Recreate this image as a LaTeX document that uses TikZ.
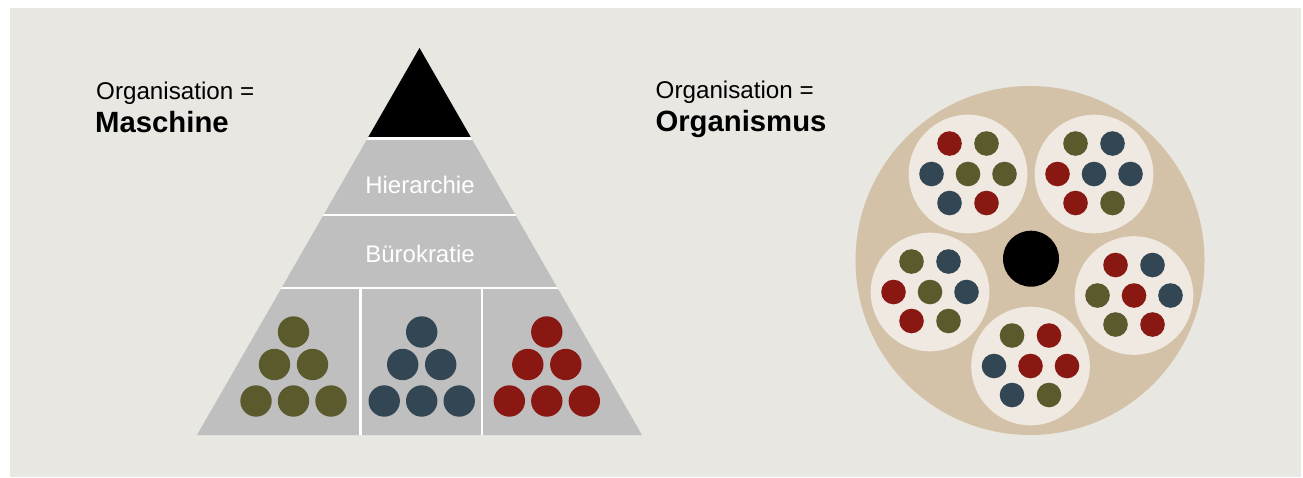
\documentclass[tikz,border=0pt]{standalone}
\usepackage{fontspec}
\setmainfont{Liberation Sans}
\definecolor{bgc}{HTML}{E9E7E2}
\definecolor{pyr}{HTML}{BFBFBF}
\definecolor{olv}{HTML}{5B5A2D}
\definecolor{slt}{HTML}{334654}
\definecolor{drd}{HTML}{8A1812}
\definecolor{tanc}{HTML}{D3C2A8}
\definecolor{crm}{HTML}{EFE9E2}
\newcommand{\mypyrdots}[3]{%
  \begin{scope}[shift={(#1,0)}]
    \foreach \px/\py in {293.5/332,274.5/364.5,312.5/364.5,256/401,293.5/401,331/401}
      \fill[#2] (\px,\py) circle[radius=#3];
  \end{scope}}
\newcommand{\mycluster}[9]{%
  \begin{scope}[shift={(#1,#2)}]
    \fill[crm] (0,0) circle[radius=59.3];
    \fill[#3] (-18.5,-30.5) circle[radius=12.3];
    \fill[#4] (18.5,-30.5) circle[radius=12.3];
    \fill[#5] (-36.5,0) circle[radius=12.3];
    \fill[#6] (0,0) circle[radius=12.3];
    \fill[#7] (36.5,0) circle[radius=12.3];
    \fill[#8] (-18.5,29) circle[radius=12.3];
    \fill[#9] (18.5,29) circle[radius=12.3];
  \end{scope}}
\begin{document}
\begin{tikzpicture}[x=1pt,y=-1pt,
  lbl/.style={anchor=base west, inner sep=0pt, text=black, font=\fontsize{24.2}{28}\selectfont},
  blbl/.style={anchor=base west, inner sep=0pt, text=black, font=\fontsize{29.3}{33}\selectfont\bfseries},
  pyrlbl/.style={anchor=base, inner sep=0pt, text=white, font=\fontsize{24}{28}\selectfont}]
\useasboundingbox (0,0) rectangle (1303,477);
\fill[bgc] (10,8) rectangle (1301,477);
% pyramid
\coordinate (apex) at (419.5,48);
\coordinate (bl) at (197,435);
\coordinate (br) at (642,435);
\fill[pyr] (apex) -- (bl) -- (br) -- cycle;
\begin{scope}
  \clip (apex) -- (bl) -- (br) -- cycle;
  \fill[black] (300,40) rectangle (540,138);
  \draw[white, line width=2.2pt] (180,138.5) -- (660,138.5);
  \draw[white, line width=2.2pt] (180,214.8) -- (660,214.8);
  \draw[white, line width=2.2pt] (180,288.3) -- (660,288.3);
  \draw[white, line width=2.2pt] (360.5,288.3) -- (360.5,440);
  \draw[white, line width=2.2pt] (482,288.3) -- (482,440);
\end{scope}
\node[pyrlbl] (hier) at (420,193.3) {Hierarchie};
\node[pyrlbl] (buero) at (420,262.3) {Bürokratie};
\mypyrdots{0}{olv}{15.7}
\mypyrdots{128.2}{slt}{15.7}
\mypyrdots{253.3}{drd}{15.7}
% left labels
\node[lbl] (org1) at (96,99.3) {Organisation =};
\node[blbl] (masch) at (95,132.3) {Maschine};
% right labels
\node[lbl] (org2) at (655.5,98.3) {Organisation =};
\node[blbl] (orgm) at (655.3,131.7) {Organismus};
% organism
\fill[tanc] (1030,260.5) circle[radius=174.5];
\fill[black] (1031,258.7) circle[radius=28];
\mycluster{968}{174}{drd}{olv}{slt}{olv}{olv}{slt}{drd}
\mycluster{1094}{174}{olv}{slt}{drd}{slt}{slt}{drd}{olv}
\mycluster{930}{292}{olv}{slt}{drd}{olv}{slt}{drd}{olv}
\mycluster{1134}{295.5}{drd}{slt}{olv}{drd}{slt}{olv}{drd}
\mycluster{1030.5}{366}{olv}{drd}{slt}{drd}{drd}{slt}{olv}
\end{tikzpicture}
\end{document}
